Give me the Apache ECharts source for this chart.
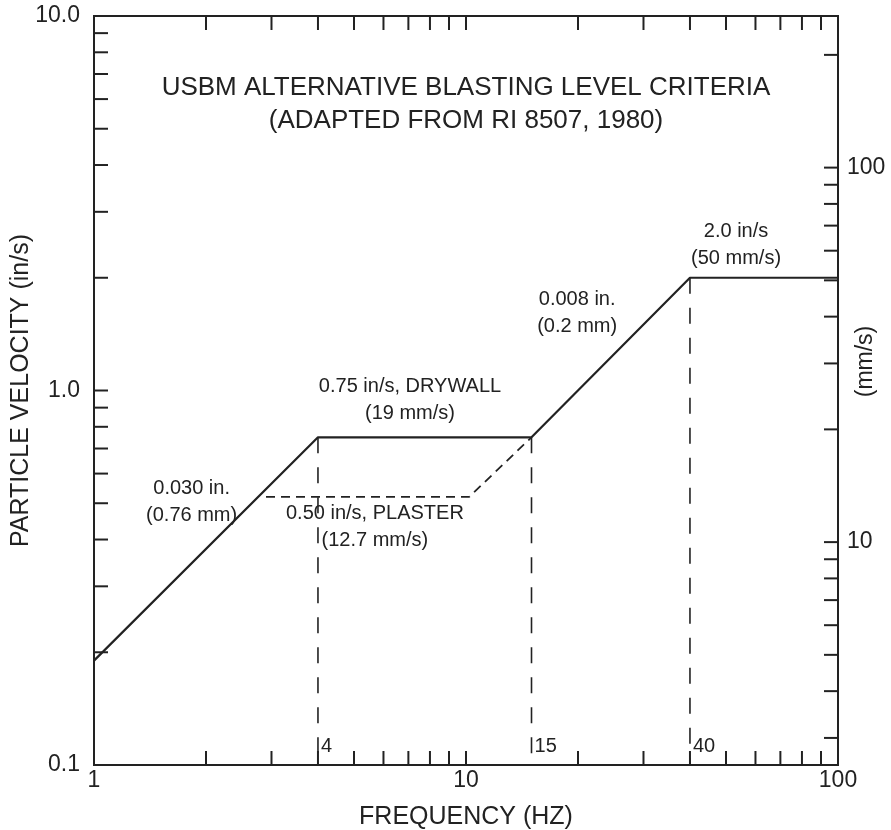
<!DOCTYPE html>
<head>
    <meta charset="utf-8">
    <title>USBM Blasting Level Criteria</title>
    <style>
        html,
        body,
        #chart {
            margin: 0;
            padding: 0;
            width: 891px;
            height: 830px;
            background: #fff;
        }
    </style>
</head>

<body>
    <div id="chart"></div>
    <script src="https://cdn.jsdelivr.net/npm/echarts@6/dist/echarts.min.js"></script>
    <script type="text/javascript">
        // drywall criterion, solid (Hz, in/s)
        var drywallLine = [[1, 0.19], [4, 0.75], [15, 0.75], [40, 2.0], [100, 2.0]];
        // plaster criterion, dashed
        var plasterLine = [[2.9, 0.52], [10.2, 0.52], [15, 0.75]];
        // dashed verticals at the break frequencies
        var breakFreqs = [4, 15, 40];
        var breakTops = [0.75, 0.75, 2.0];
        // tick positions
        var xTickVals = [2, 3, 4, 5, 6, 7, 8, 9, 10, 20, 30, 40, 50, 60, 70, 80, 90];
        var yTickVals = [0.2, 0.3, 0.4, 0.5, 0.6, 0.7, 0.8, 0.9, 1, 2, 3, 4, 5, 6, 7, 8, 9];
        var mmTickVals = [3, 4, 5, 6, 7, 8, 9, 10, 20, 30, 40, 50, 60, 70, 80, 90, 100, 200];
        // annotations: [Hz, in/s, text]
        var notes = [
            [7.07, 0.946, '0.75 in/s, DRYWALL\n(19 mm/s)'],
            [1.83, 0.505, '0.030 in.\n(0.76 mm)'],
            [5.69, 0.433, '0.50 in/s, PLASTER\n(12.7 mm/s)'],
            [19.9, 1.615, '0.008 in.\n(0.2 mm)'],
            [53.2, 2.446, '2.0 in/s\n(50 mm/s)']
        ];

        var FONT = "'Liberation Sans', Arial, sans-serif";
        var INK = '#222';
        var TICK = 14;

        var chart = echarts.init(document.getElementById('chart'));

        function isDecade(v) {
            var l = Math.log(v) / Math.LN10;
            return Math.abs(l - Math.round(l)) < 1e-6;
        }

        // inward ticks drawn through the axes' own scales
        function tickSeries(vals, side) {
            return {
                type: 'custom',
                xAxisIndex: 0,
                yAxisIndex: side === 'mm' ? 1 : 0,
                silent: true,
                z: 5,
                data: vals.map(function (v) { return side === 'x' ? [v, 1] : [1, v]; }),
                renderItem: function (params, api) {
                    var segs = [];
                    if (side === 'x') {
                        var v = api.value(0);
                        var b = api.coord([v, 0.1]);
                        var t = api.coord([v, 10]);
                        segs.push([b[0], b[1], b[0], b[1] - TICK]);
                        segs.push([t[0], t[1], t[0], t[1] + TICK]);
                    } else if (side === 'y') {
                        var l = api.coord([1, api.value(1)]);
                        segs.push([l[0], l[1], l[0] + TICK, l[1]]);
                    } else {
                        var r = api.coord([100, api.value(1)]);
                        segs.push([r[0], r[1], r[0] - TICK, r[1]]);
                    }
                    return {
                        type: 'group',
                        children: segs.map(function (s) {
                            return {
                                type: 'line',
                                shape: { x1: s[0], y1: s[1], x2: s[2], y2: s[3] },
                                style: { stroke: INK, lineWidth: 2 }
                            };
                        })
                    };
                }
            };
        }

        var series = [
            {
                type: 'line',
                data: drywallLine,
                symbol: 'none',
                z: 4,
                lineStyle: { color: INK, width: 2.2 }
            },
            {
                type: 'line',
                data: plasterLine,
                symbol: 'none',
                lineStyle: { color: INK, width: 1.8, type: [9, 6] }
            }
        ];

        breakFreqs.forEach(function (f, i) {
            series.push({
                type: 'line',
                data: [[f, breakTops[i]], [f, 0.1]],
                symbol: 'none',
                lineStyle: { color: INK, width: 1.6, type: [16, 14] }
            });
        });

        // frequency labels next to the dashed verticals
        series.push({
            type: 'scatter',
            symbolSize: 0,
            silent: true,
            itemStyle: { opacity: 1 },
            data: breakFreqs.map(function (f) { return { name: String(f), value: [f, 0.112] }; }),
            label: {
                show: true,
                position: 'right',
                distance: 3,
                formatter: '{b}',
                color: INK,
                fontFamily: FONT,
                fontSize: 20
            }
        });

        series.push({
            type: 'scatter',
            symbolSize: 0,
            silent: true,
            itemStyle: { opacity: 1 },
            data: notes.map(function (n) { return { name: n[2], value: [n[0], n[1]] }; }),
            label: {
                show: true,
                position: 'inside',
                formatter: '{b}',
                align: 'center',
                color: INK,
                fontFamily: FONT,
                fontSize: 20,
                lineHeight: 27
            }
        });

        series.push(tickSeries(xTickVals, 'x'));
        series.push(tickSeries(yTickVals, 'y'));
        series.push(tickSeries(mmTickVals, 'mm'));

        chart.setOption({
            animation: false,
            backgroundColor: '#fff',
            textStyle: { fontFamily: FONT },
            grid: {
                left: 94,
                right: 53,
                top: 16,
                bottom: 65,
                outerBoundsMode: 'none',
                containLabel: false,
                show: true,
                borderColor: INK,
                borderWidth: 2
            },
            graphic: [
                {
                    type: 'text',
                    x: 466,
                    y: 88,
                    style: {
                        text: 'USBM ALTERNATIVE BLASTING LEVEL CRITERIA',
                        fontFamily: FONT, fontSize: 26, fill: INK,
                        align: 'center', verticalAlign: 'middle'
                    }
                },
                {
                    type: 'text',
                    x: 466,
                    y: 121,
                    style: {
                        text: '(ADAPTED FROM RI 8507, 1980)',
                        fontFamily: FONT, fontSize: 26, fill: INK,
                        align: 'center', verticalAlign: 'middle'
                    }
                }
            ],
            xAxis: {
                type: 'log',
                logBase: 10,
                min: 1,
                max: 100,
                name: 'FREQUENCY (HZ)',
                nameLocation: 'middle',
                nameGap: 40,
                nameMoveOverlap: false,
                nameTextStyle: { fontSize: 25, color: INK, fontFamily: FONT },
                axisLine: { show: false },
                axisTick: { show: false },
                splitLine: { show: false },
                axisLabel: {
                    margin: 4,
                    fontSize: 23,
                    color: INK,
                    fontFamily: FONT,
                    formatter: function (v) { return String(Math.round(v)); }
                }
            },
            yAxis: [
                {
                    type: 'log',
                    logBase: 10,
                    min: 0.1,
                    max: 10,
                    name: 'PARTICLE VELOCITY (in/s)',
                    nameLocation: 'middle',
                    nameGap: 60,
                    nameMoveOverlap: false,
                    nameTextStyle: { fontSize: 25, color: INK, fontFamily: FONT },
                    axisLine: { show: false },
                    axisTick: { show: false },
                    splitLine: { show: false },
                    axisLabel: {
                        margin: 14,
                        fontSize: 23,
                        color: INK,
                        fontFamily: FONT,
                        formatter: function (v) { return v.toFixed(1); }
                    }
                },
                {
                    type: 'log',
                    logBase: 10,
                    position: 'right',
                    min: 2.54,
                    max: 254,
                    name: '(mm/s)',
                    nameLocation: 'middle',
                    nameRotate: 90,
                    nameGap: 16,
                    nameMoveOverlap: false,
                    nameTextStyle: { fontSize: 23, color: INK, fontFamily: FONT, padding: [0, 0, 0, 58] },
                    axisLine: { show: false },
                    axisTick: { show: false },
                    splitLine: { show: false },
                    axisLabel: {
                        margin: 9,
                        fontSize: 23,
                        color: INK,
                        fontFamily: FONT,
                        formatter: function (v) { return isDecade(v) ? String(Math.round(v)) : ''; }
                    }
                }
            ],
            series: series
        });
    </script>
</body>
